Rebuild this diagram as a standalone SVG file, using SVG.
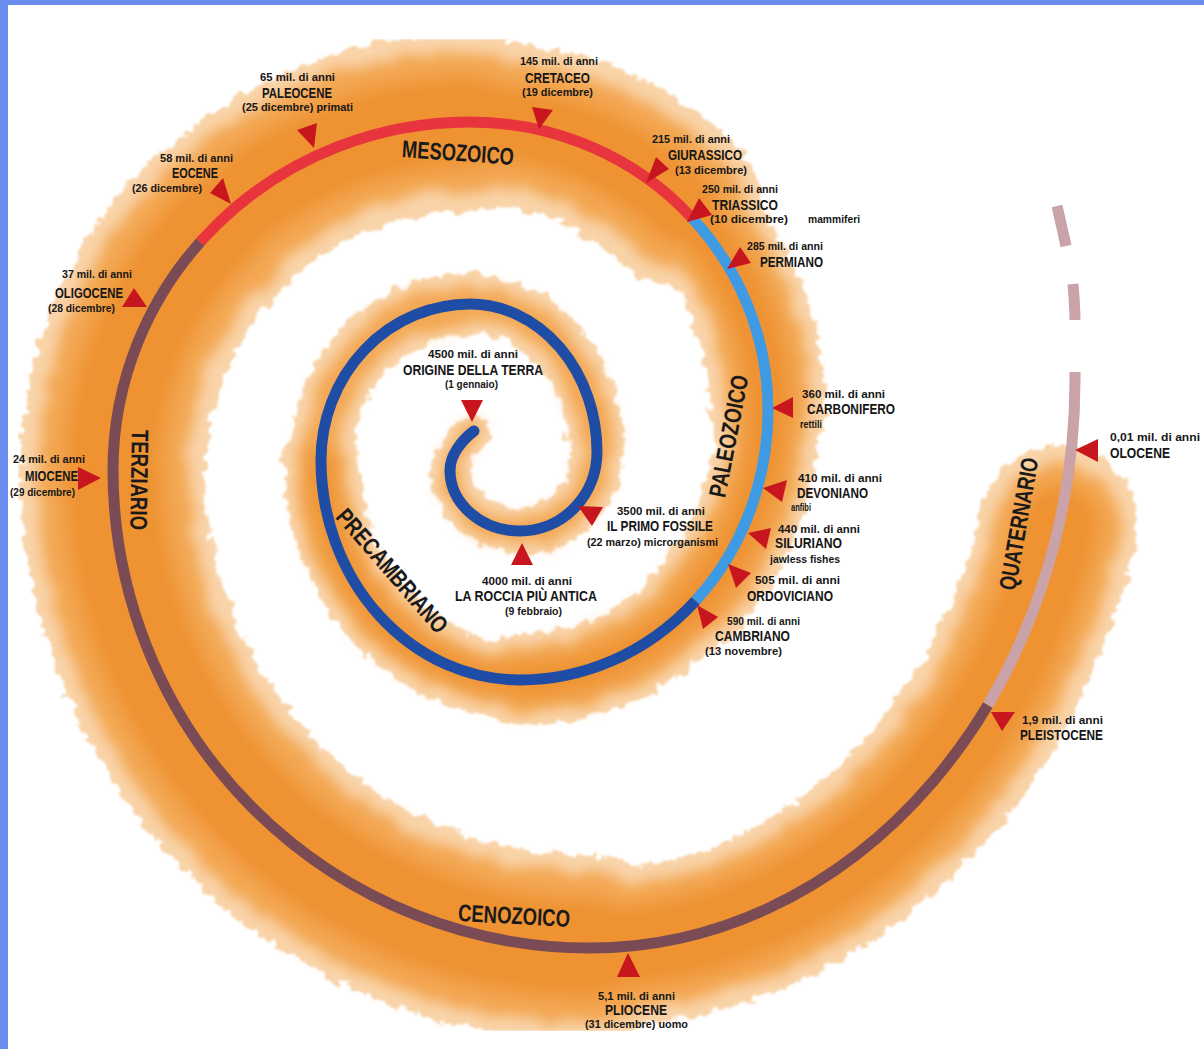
<svg xmlns="http://www.w3.org/2000/svg" width="1204" height="1049" viewBox="0 0 1204 1049">
<style>
.t{font-family:"Liberation Sans Narrow","Liberation Sans",Arial,sans-serif;font-weight:bold;fill:#161616}
.s{font-size:11px}
.n{font-size:15px}
.d{font-size:11.5px}
.big{font-size:24px;fill:#1a1a1a}
.tri{fill:#C8161E}
.ln{fill:none;stroke-width:11}
.b1 use{stroke:#F9D4AA;fill:none;stroke-linecap:round}
.b2 use{stroke:#F3A752;fill:none;stroke-linecap:round}
.b3 use{stroke:#EE9233;fill:none;stroke-linecap:round}
</style>
<defs>
<filter id="rag" x="-10%" y="-10%" width="120%" height="120%">
<feTurbulence type="fractalNoise" baseFrequency="0.09" numOctaves="3" seed="4" result="n"/>
<feDisplacementMap in="SourceGraphic" in2="n" scale="16" xChannelSelector="R" yChannelSelector="G" result="d"/>
<feGaussianBlur in="d" stdDeviation="1.2"/>
</filter>
<filter id="rag2" x="-10%" y="-10%" width="120%" height="120%">
<feTurbulence type="fractalNoise" baseFrequency="0.05" numOctaves="2" seed="9" result="n"/>
<feDisplacementMap in="SourceGraphic" in2="n" scale="18" xChannelSelector="R" yChannelSelector="G" result="d"/>
<feGaussianBlur in="d" stdDeviation="7"/>
</filter>
<filter id="soft" x="-10%" y="-10%" width="120%" height="120%">
<feGaussianBlur stdDeviation="9"/>
</filter>
<path id="b0" d="M474,431 C462,440 450,455 450,470"/>
<path id="b1" d="M450,470 A70,61 0 0 0 520,531"/>
<path id="b2" d="M520,531 A77,79 0 0 0 597,452"/>
<path id="b3" d="M597,452 A127,148 0 0 0 470,304"/>
<path id="b4" d="M470,304 A149,156 0 0 0 321,460"/>
<path id="b5" d="M321,460 A199,220 0 0 0 520,680"/>
<path id="b6" d="M520,680 A248,270 0 0 0 695,601"/>
<path id="b7" d="M695,601 A248,270 0 0 0 768,410"/>
<path id="b8" d="M768,410 A298,288 0 0 0 681,206"/>
<path id="b9" d="M681,206 A298,288 0 0 0 470,122"/>
<path id="b10" d="M470,122 A357,348 0 0 0 218,224"/>
<path id="b11" d="M218,224 A357,348 0 0 0 113,470"/>
<path id="b12" d="M113,470 A477,478 0 0 0 590,948"/>
<path id="b13" d="M590,948 A485,568 0 0 0 1059,525"/>
<path id="spiral" d="M474,431 C462,440 450,455 450,470 A70,61 0 0 0 520,531 A77,79 0 0 0 597,452 A127,148 0 0 0 470,304 A149,156 0 0 0 321,460 A199,220 0 0 0 520,680 A248,270 0 0 0 768,410 A298,288 0 0 0 470,122 A357,348 0 0 0 113,470 A477,478 0 0 0 590,948 A485,568 0 0 0 1075,380 L1075,372"/>
<clipPath id="cDark"><polygon points="234,272 654,256 662,570 728,630 800,740 230,760"/></clipPath>
<clipPath id="cLight"><polygon points="654,256 718,194 900,150 900,700 728,630 662,570"/></clipPath>
<clipPath id="cRed"><polygon points="166,212 0,150 0,0 900,0 900,150 718,194 654,256 234,272"/></clipPath>
<clipPath id="cMar"><polygon points="166,212 234,272 230,760 800,740 954,685 1022,725 1204,800 1204,1049 0,1049 0,150"/></clipPath>
<clipPath id="cPale"><polygon points="900,0 1204,0 1204,800 1022,725 954,685 900,690"/></clipPath>
</defs>
<rect x="0" y="0" width="1204" height="1049" fill="#ffffff"/>
<g id="band">
<g class="b1" filter="url(#rag)">
<use href="#b0" stroke-width="32"/><use href="#b1" stroke-width="42"/><use href="#b2" stroke-width="50"/><use href="#b3" stroke-width="56"/><use href="#b4" stroke-width="62"/><use href="#b5" stroke-width="75"/><use href="#b6" stroke-width="92"/><use href="#b7" stroke-width="102"/><use href="#b8" stroke-width="115"/><use href="#b9" stroke-width="165"/><use href="#b10" stroke-width="178"/><use href="#b11" stroke-width="185"/><use href="#b12" stroke-width="185"/><use href="#b13" stroke-width="158"/>
</g>
<g class="b2" filter="url(#rag2)">
<use href="#b0" stroke-width="16"/><use href="#b1" stroke-width="22"/><use href="#b2" stroke-width="28"/><use href="#b3" stroke-width="32"/><use href="#b4" stroke-width="38"/><use href="#b5" stroke-width="50"/><use href="#b6" stroke-width="66"/><use href="#b7" stroke-width="74"/><use href="#b8" stroke-width="84"/><use href="#b9" stroke-width="125"/><use href="#b10" stroke-width="140"/><use href="#b11" stroke-width="148"/><use href="#b12" stroke-width="150"/><use href="#b13" stroke-width="124"/>
</g>
<g class="b3" filter="url(#soft)">
<use href="#b5" stroke-width="24"/><use href="#b6" stroke-width="34"/><use href="#b7" stroke-width="40"/><use href="#b8" stroke-width="46"/><use href="#b9" stroke-width="75"/><use href="#b10" stroke-width="90"/><use href="#b11" stroke-width="96"/><use href="#b12" stroke-width="98"/><use href="#b13" stroke-width="80"/>
</g>
</g>
<g id="connectors">
<use href="#spiral" class="ln" stroke="#1F4DA6" stroke-width="12" stroke-linecap="round" clip-path="url(#cDark)"/>
<use href="#spiral" class="ln" stroke="#3E9BE3" clip-path="url(#cLight)"/>
<use href="#spiral" class="ln" stroke="#E8343C" clip-path="url(#cRed)"/>
<use href="#spiral" class="ln" stroke="#7B4B55" stroke-width="9" clip-path="url(#cMar)"/>
<use href="#spiral" class="ln" stroke="#C9A3A8" stroke-width="9" clip-path="url(#cPale)"/>
<path class="ln" stroke="#C9A3A8" stroke-width="9" d="M1075,320 C1075,308 1074,296 1073,284"/>
<path class="ln" stroke="#C9A3A8" stroke-width="9" d="M1066,246 C1063,232 1060,219 1057,206"/>
</g>
<g id="eras">
<text class="t big" transform="translate(458,153) rotate(4)" x="-56" y="8" textLength="112" lengthAdjust="spacingAndGlyphs">MESOZOICO</text>
<text class="t big" transform="translate(729,436) rotate(-79)" x="-62" y="8" textLength="124" lengthAdjust="spacingAndGlyphs">PALEOZOICO</text>
<text class="t big" transform="translate(139,480) rotate(91)" x="-50" y="8" textLength="100" lengthAdjust="spacingAndGlyphs">TERZIARIO</text>
<text class="t big" transform="translate(392,571) rotate(49)" x="-78" y="8" textLength="156" lengthAdjust="spacingAndGlyphs">PRECAMBRIANO</text>
<text class="t big" transform="translate(514,916) rotate(3)" x="-56" y="8" textLength="112" lengthAdjust="spacingAndGlyphs">CENOZOICO</text>
<text class="t big" transform="translate(1019,524) rotate(-80)" x="-67" y="8" textLength="134" lengthAdjust="spacingAndGlyphs">QUATERNARIO</text>
</g>
<g id="cretaceo">
<text class="t s" x="520" y="65" textLength="78" lengthAdjust="spacingAndGlyphs">145 mil. di anni</text>
<text class="t n" x="525" y="83" textLength="65" lengthAdjust="spacingAndGlyphs">CRETACEO</text>
<text class="t d" x="522" y="96" textLength="71" lengthAdjust="spacingAndGlyphs">(19 dicembre)</text>
<polygon class="tri" points="532,107 553,110 539,129"/>
</g>
<g id="paleocene">
<text class="t s" x="260" y="81" textLength="75" lengthAdjust="spacingAndGlyphs">65 mil. di anni</text>
<text class="t n" x="262" y="98" textLength="70" lengthAdjust="spacingAndGlyphs">PALEOCENE</text>
<text class="t d" x="242" y="111" textLength="111" lengthAdjust="spacingAndGlyphs">(25 dicembre) primati</text>
<polygon class="tri" points="297,130 317,123 314,148"/>
</g>
<g id="eocene">
<text class="t s" x="160" y="162" textLength="73" lengthAdjust="spacingAndGlyphs">58 mil. di anni</text>
<text class="t n" x="172" y="178" textLength="46" lengthAdjust="spacingAndGlyphs">EOCENE</text>
<text class="t d" x="132" y="192" textLength="70" lengthAdjust="spacingAndGlyphs">(26 dicembre)</text>
<polygon class="tri" points="223,178 210,193 231,204"/>
</g>
<g id="giurassico">
<text class="t s" x="652" y="143" textLength="78" lengthAdjust="spacingAndGlyphs">215 mil. di anni</text>
<text class="t n" x="668" y="160" textLength="74" lengthAdjust="spacingAndGlyphs">GIURASSICO</text>
<text class="t d" x="675" y="174" textLength="72" lengthAdjust="spacingAndGlyphs">(13 dicembre)</text>
<polygon class="tri" points="656,157 669,169 646,183"/>
</g>
<g id="triassico">
<text class="t s" x="702" y="193" textLength="76" lengthAdjust="spacingAndGlyphs">250 mil. di anni</text>
<text class="t n" x="712" y="210" textLength="66" lengthAdjust="spacingAndGlyphs">TRIASSICO</text>
<text class="t d" x="710" y="223" textLength="78" lengthAdjust="spacingAndGlyphs">(10 dicembre)</text>
<text class="t d" x="808" y="223" textLength="52" lengthAdjust="spacingAndGlyphs">mammiferi</text>
<polygon class="tri" points="699,198 712,215 687,222"/>
</g>
<g id="permiano">
<text class="t s" x="747" y="250" textLength="76" lengthAdjust="spacingAndGlyphs">285 mil. di anni</text>
<text class="t n" x="760" y="267" textLength="63" lengthAdjust="spacingAndGlyphs">PERMIANO</text>
<polygon class="tri" points="740,247 751,263 727,269"/>
</g>
<g id="oligocene">
<text class="t s" x="62" y="278" textLength="70" lengthAdjust="spacingAndGlyphs">37 mil. di anni</text>
<text class="t n" x="55" y="298" textLength="68" lengthAdjust="spacingAndGlyphs">OLIGOCENE</text>
<text class="t d" x="48" y="312" textLength="67" lengthAdjust="spacingAndGlyphs">(28 dicembre)</text>
<polygon class="tri" points="134,288 122,307 147,307"/>
</g>
<g id="miocene">
<text class="t s" x="13" y="463" textLength="72" lengthAdjust="spacingAndGlyphs">24 mil. di anni</text>
<text class="t n" x="25" y="481" textLength="53" lengthAdjust="spacingAndGlyphs">MIOCENE</text>
<text class="t d" x="10" y="496" textLength="65" lengthAdjust="spacingAndGlyphs">(29 dicembre)</text>
<polygon class="tri" points="78,467 78,490 101,478"/>
</g>
<g id="origine">
<text class="t s" x="428" y="358" textLength="90" lengthAdjust="spacingAndGlyphs">4500 mil. di anni</text>
<text class="t n" x="403" y="375" textLength="140" lengthAdjust="spacingAndGlyphs">ORIGINE DELLA TERRA</text>
<text class="t d" x="445" y="388" textLength="53" lengthAdjust="spacingAndGlyphs">(1 gennaio)</text>
<polygon class="tri" points="461,400 483,400 472,422"/>
</g>
<g id="fossile">
<text class="t s" x="617" y="515" textLength="88" lengthAdjust="spacingAndGlyphs">3500 mil. di anni</text>
<text class="t n" x="607" y="531" textLength="106" lengthAdjust="spacingAndGlyphs">IL PRIMO FOSSILE</text>
<text class="t d" x="587" y="546" textLength="131" lengthAdjust="spacingAndGlyphs">(22 marzo) microrganismi</text>
<polygon class="tri" points="578,506 603,507 592,526"/>
</g>
<g id="roccia">
<text class="t s" x="482" y="585" textLength="90" lengthAdjust="spacingAndGlyphs">4000 mil. di anni</text>
<text class="t n" x="455" y="601" textLength="142" lengthAdjust="spacingAndGlyphs">LA ROCCIA PIÙ ANTICA</text>
<text class="t d" x="505" y="615" textLength="57" lengthAdjust="spacingAndGlyphs">(9 febbraio)</text>
<polygon class="tri" points="522,543 511,565 533,565"/>
</g>
<g id="carbonifero">
<text class="t s" x="802" y="398" textLength="83" lengthAdjust="spacingAndGlyphs">360 mil. di anni</text>
<text class="t n" x="807" y="414" textLength="88" lengthAdjust="spacingAndGlyphs">CARBONIFERO</text>
<text class="t d" x="800" y="428" textLength="22" lengthAdjust="spacingAndGlyphs">rettili</text>
<polygon class="tri" points="772,408 793,397 793,418"/>
</g>
<g id="devoniano">
<text class="t s" x="798" y="482" textLength="84" lengthAdjust="spacingAndGlyphs">410 mil. di anni</text>
<text class="t n" x="797" y="498" textLength="71" lengthAdjust="spacingAndGlyphs">DEVONIANO</text>
<text class="t d" x="791" y="511" textLength="20" lengthAdjust="spacingAndGlyphs">anfibi</text>
<polygon class="tri" points="787,480 763,488 782,502"/>
</g>
<g id="siluriano">
<text class="t s" x="778" y="533" textLength="82" lengthAdjust="spacingAndGlyphs">440 mil. di anni</text>
<text class="t n" x="775" y="548" textLength="67" lengthAdjust="spacingAndGlyphs">SILURIANO</text>
<text class="t d" x="770" y="563" textLength="70" lengthAdjust="spacingAndGlyphs">jawless fishes</text>
<polygon class="tri" points="771,528 748,533 766,549"/>
</g>
<g id="ordoviciano">
<text class="t s" x="755" y="584" textLength="85" lengthAdjust="spacingAndGlyphs">505 mil. di anni</text>
<text class="t n" x="747" y="601" textLength="86" lengthAdjust="spacingAndGlyphs">ORDOVICIANO</text>
<polygon class="tri" points="728,564 751,573 736,588"/>
</g>
<g id="cambriano">
<text class="t s" x="727" y="625" textLength="73" lengthAdjust="spacingAndGlyphs">590 mil. di anni</text>
<text class="t n" x="715" y="641" textLength="75" lengthAdjust="spacingAndGlyphs">CAMBRIANO</text>
<text class="t d" x="705" y="655" textLength="77" lengthAdjust="spacingAndGlyphs">(13 novembre)</text>
<polygon class="tri" points="697,605 718,617 703,629"/>
</g>
<g id="olocene">
<text class="t s" x="1110" y="441" textLength="90" lengthAdjust="spacingAndGlyphs">0,01 mil. di anni</text>
<text class="t n" x="1110" y="458" textLength="60" lengthAdjust="spacingAndGlyphs">OLOCENE</text>
<polygon class="tri" points="1075,450 1098,439 1098,462"/>
</g>
<g id="pleistocene">
<text class="t s" x="1022" y="724" textLength="81" lengthAdjust="spacingAndGlyphs">1,9 mil. di anni</text>
<text class="t n" x="1020" y="740" textLength="83" lengthAdjust="spacingAndGlyphs">PLEISTOCENE</text>
<polygon class="tri" points="991,712 1015,712 1002,731"/>
</g>
<g id="pliocene">
<text class="t s" x="598" y="1000" textLength="77" lengthAdjust="spacingAndGlyphs">5,1 mil. di anni</text>
<text class="t n" x="605" y="1015" textLength="62" lengthAdjust="spacingAndGlyphs">PLIOCENE</text>
<text class="t d" x="585" y="1028" textLength="103" lengthAdjust="spacingAndGlyphs">(31 dicembre) uomo</text>
<polygon class="tri" points="628,953 617,977 640,977"/>
</g>
<g id="frame">
<rect x="0" y="0" width="8" height="1049" fill="#6C8DF0"/>
<rect x="0" y="0" width="1204" height="5" fill="#6C8DF0"/>
</g>
</svg>
